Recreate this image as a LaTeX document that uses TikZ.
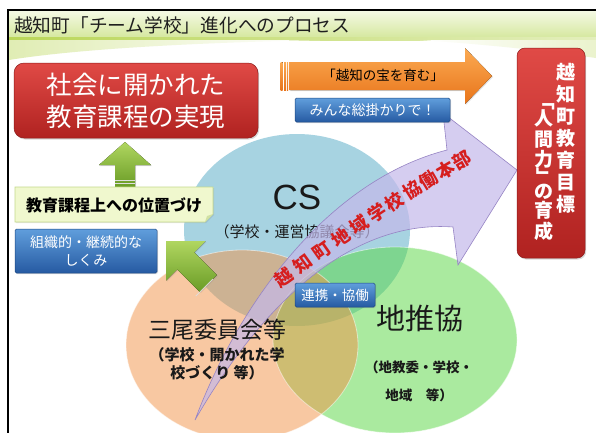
\documentclass[tikz,border=0pt]{standalone}
\usepackage{fontspec}
\setmainfont{Noto Sans CJK JP}
\newfontfamily\arial{Liberation Sans}
\usetikzlibrary{shadows}
\definecolor{bbase}{RGB}{81,169,197}
\definecolor{gbase}{RGB}{87,215,65}
\definecolor{obase}{RGB}{242,146,70}
\definecolor{redtop}{RGB}{224,74,70}
\definecolor{redbot}{RGB}{176,34,32}
\definecolor{bluetop}{RGB}{96,158,220}
\definecolor{bluebot}{RGB}{38,90,162}
\definecolor{orgtop}{RGB}{251,170,82}
\definecolor{orgbot}{RGB}{232,116,26}
\definecolor{grtop}{RGB}{176,214,96}
\definecolor{grbot}{RGB}{106,156,38}
\definecolor{purp}{RGB}{196,184,234}
\definecolor{purpline}{RGB}{150,132,196}
\definecolor{arrred}{RGB}{214,30,30}
\definecolor{tbtop}{RGB}{244,249,228}
\definecolor{tbbot}{RGB}{214,232,160}
\definecolor{tbline}{RGB}{186,214,88}
\definecolor{ylbox}{RGB}{240,248,206}
\definecolor{ylline}{RGB}{196,218,140}
\tikzset{
  fs/.style={font=\fontsize{#1}{#1}\selectfont},
  bluebox/.style={draw=bluebot!80!black, line width=0.5pt, rounded corners=1.5pt,
    top color=bluetop, bottom color=bluebot, text=white, inner sep=0pt,
    drop shadow={opacity=0.25, shadow xshift=1pt, shadow yshift=-1.2pt}},
  redbox/.style={draw=redbot!80!black, line width=0.5pt,
    top color=redtop, bottom color=redbot, text=white, inner sep=0pt,
    drop shadow={opacity=0.3, shadow xshift=1.2pt, shadow yshift=-1.5pt}},
  vtext/.style={text=white, font=\fontsize{19}{19}\selectfont\bfseries,
    inner sep=0pt, text height=15pt, text depth=3pt},
  arrtext/.style={font=\fontsize{18}{18}\selectfont\bfseries, inner sep=0pt, sloped},
  circlabel/.style={text=black!90, inner sep=0pt, align=center},
}
\begin{document}
\begin{tikzpicture}[x=1pt,y=-1pt]
\useasboundingbox (0,0) rectangle (596,432);
\fill[white] (0,0) rectangle (596,432);

% title bar
\shade[top color=tbtop, bottom color=tbbot] (9,11) rectangle (596,37);
\shade[left color=tbline, right color=tbline!40] (9,37) rectangle (596,40);
\shade[left color=tbline!45, right color=white] (9,40) -- (320,40) .. controls (180,43) and (70,50) .. (9,60) -- cycle;
\shade[left color=white, right color=tbline!30] (420,40) -- (596,40) -- (596,58) .. controls (540,50) and (480,44) .. (420,40) -- cycle;
\node[anchor=west, fs=18.7, text=black!88, inner sep=0pt] (title) at (14,25) {越知町「チーム学校」進化へのプロセス};

% frame
\draw[line width=2pt, black] (8,433) -- (8,10) -- (597,10);

% circles
\fill[bbase, opacity=0.5] (297,230) ellipse [x radius=113, y radius=96];
\fill[gbase, opacity=0.5] (395,340) ellipse [x radius=122, y radius=93];
\fill[obase, opacity=0.5] (242,345) ellipse [x radius=116, y radius=95];
\draw[white, opacity=0.5, line width=0.8pt] (395,340) ellipse [x radius=122, y radius=93];
\draw[white, opacity=0.5, line width=0.8pt] (242,345) ellipse [x radius=116, y radius=95];

% CS labels
\node[circlabel, font=\fontsize{35}{38}\arial\selectfont] (cs) at (297,197) {CS};
\node[circlabel, fs=15] (cssub) at (297,232) {（学校・運営協議会等）};

% purple arrow
\path[fill=purp, fill opacity=0.7, draw=purpline, line width=0.6pt]
  (195,420) .. controls (240,300) and (330,180) .. (447,150)
  -- (443,113) -- (517,170) -- (458,265) -- (453,227)
  .. controls (360,220) and (270,290) .. (195,420) -- cycle;

% other circle labels
\node[circlabel, fs=23] (mio) at (217,330) {三尾委員会等};
\node[circlabel, font=\fontsize{15}{18}\selectfont\bfseries] (miosub) at (217,364) {（学校・開かれた学\\校づくり 等）};
\node[circlabel, fs=29] (chi) at (420,318) {地推協};
\node[circlabel, font=\fontsize{13.5}{28}\selectfont\bfseries] (chisub) at (419,381) {（地教委・学校・\\地域　等）};

% text along purple arrow
\foreach \c [count=\i from 0] in {越,知,町,地,域,学,校,協,働,本,部} {
  \pgfmathsetmacro\p{\i/10}
  \path (284,278) .. controls (349,231) and (408,191) .. (462,160)
    node[arrtext, pos=\p, text=arrred] (at\i) {\c};
}

% red goal box
\node[redbox, rounded corners=10pt, minimum width=244, minimum height=75, align=center,
  font=\fontsize{25.5}{32}\selectfont] (goal) at (136,100.5) {社会に開かれた\\教育課程の実現};

% green up arrow
\fill[top color=grtop, bottom color=grbot, drop shadow={opacity=0.2, shadow xshift=1pt, shadow yshift=-1pt}]
  (125,142) -- (151,165) -- (135,165) -- (135,187) -- (115,187) -- (115,165) -- (99,165) -- cycle;
\draw[white!75!gray, line width=0.7pt] (115,180) -- (135,180);
\draw[white!75!gray, line width=0.7pt] (115,183.5) -- (135,183.5);

% yellow box
\filldraw[fill=ylbox, draw=ylline, line width=0.6pt, drop shadow={opacity=0.2, shadow xshift=1pt, shadow yshift=-1pt}]
  (15,187) -- (213,187) -- (213,214) -- (205,222) -- (15,222) -- cycle;
\fill[ylline!80!white] (205,222) -- (207,216) -- (213,214) -- cycle;
\node[inner sep=0pt, font=\fontsize{16}{18}\selectfont\bfseries, text=black] (pos) at (114,205) {教育課程上への位置づけ};

% blue box left
\node[bluebox, minimum width=142, minimum height=44, align=center,
  font=\fontsize{14}{18}\selectfont] (shikumi) at (86,251) {組織的・継続的な\\しくみ};

% diagonal green arrow
\fill[top color=grtop, bottom color=grbot, drop shadow={opacity=0.2, shadow xshift=1pt, shadow yshift=-1pt}]
  (166,241) -- (205.6,241) -- (194.3,252.3) -- (216.9,274.9) -- (199.9,291.9) -- (177.3,269.3) -- (166,280.6) -- cycle;
\draw[white!75!gray, line width=0.7pt] (212.7,279.1) -- (195.7,296.1);

% orange arrow
\foreach \xa/\xb in {280.5/282.5,284/286,287.2/288.2} {
  \fill[top color=orgtop, bottom color=orgbot] (\xa,62) rectangle (\xb,90);
}
\fill[top color=orgtop, bottom color=orgbot, drop shadow={opacity=0.2, shadow xshift=1pt, shadow yshift=-1pt}]
  (289.5,62) -- (465,62) -- (465,48) -- (492,76) -- (465,104) -- (465,90) -- (289.5,90) -- cycle;
\node[inner sep=0pt, fs=13.5, text=black] (takara) at (383,75) {「越知の宝を育む」};

% blue box minna
\node[bluebox, minimum width=155, minimum height=24, font=\fontsize{14}{16}\selectfont] (minna) at (372.5,110) {みんな総掛かりで！};

% blue box renkei
\node[bluebox, minimum width=80, minimum height=24, font=\fontsize{13.5}{15}\selectfont] (renkei) at (335,295) {連携・協働};

% right red box
\node[redbox, rounded corners=8pt, minimum width=68, minimum height=210] (mokuhyo) at (551,153) {};
\foreach \c/\yy [count=\i] in {越/73,知/95,町/117,教/139,育/161,目/183,標/205} {
  \node[vtext] (r\i) at (566,\yy) {\c};
}
\node[vtext, rotate=-90] (l1) at (544,101) {「};
\node[vtext] (l2) at (544,119) {人};
\node[vtext] (l3) at (544,140) {間};
\node[vtext] (l4) at (544,160) {力};
\node[vtext, rotate=-90] (l5) at (544,177) {」};
\node[vtext] (l6) at (544,192) {の};
\node[vtext] (l7) at (544,211) {育};
\node[vtext] (l8) at (544,232) {成};
\end{tikzpicture}
\end{document}
